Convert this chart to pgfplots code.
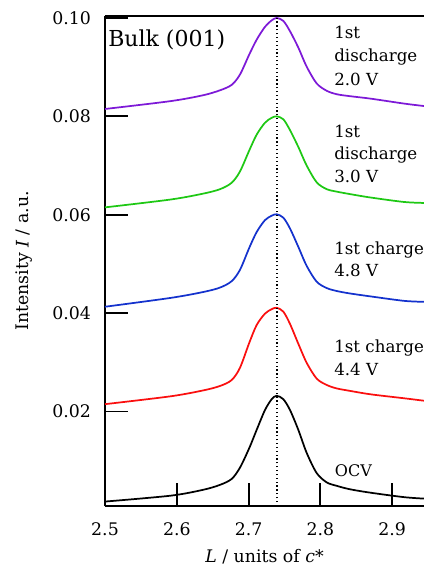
\documentclass[border=0pt]{standalone}
\usepackage{fontspec}
\setmainfont{DejaVu Serif}
\usepackage{pgfplots}
\pgfplotsset{compat=1.18}

\definecolor{cPurple}{RGB}{125,25,215}
\definecolor{cGreen}{RGB}{30,200,20}
\definecolor{cBlue}{RGB}{20,50,205}
\definecolor{cRed}{RGB}{250,15,15}

\begin{document}
\begin{tikzpicture}
\begin{axis}[
  name=ax,
  scale only axis, width=239.25pt, height=367.5pt,
  xmin=2.5, xmax=2.9443, ymin=0.0008, ymax=0.1004,
  axis x line*=box, axis y line*=left,
  axis line style={-, line width=1.6pt},
  xtick pos=bottom, ytick pos=left,
  xtick={2.5,2.6,2.7,2.8,2.9},
  ytick={0.02,0.04,0.06,0.08,0.10},
  tick align=inside, major tick length=17.5pt,
  every tick/.style={black, line width=1.4pt},
  /pgf/number format/assume math mode=true,
  xticklabel style={/pgf/number format/fixed, /pgf/number format/precision=1,
                    font=\fontsize{13}{15}\selectfont, yshift=-9pt},
  yticklabel style={/pgf/number format/fixed, /pgf/number format/fixed zerofill,
                    /pgf/number format/precision=2,
                    font=\fontsize{13}{15}\selectfont, xshift=-7pt},
  xlabel={\textit{L} / units of \textit{c}*},
  ylabel={Intensity \textit{I} / a.u.},
  xlabel shift=3pt, ylabel shift=8pt,
  label style={font=\fontsize{13}{15}\selectfont},
  clip mode=individual,
  every axis plot/.append style={line width=1.3pt, smooth, tension=0.5},
]
% OCV
\addplot[black] coordinates {
  (2.5,0.0017) (2.5915,0.0029) (2.6369,0.0041) (2.6602,0.0051) (2.6764,0.0063)
  (2.688,0.0086) (2.701,0.0126) (2.7113,0.0163) (2.7228,0.0203) (2.7321,0.0225)
  (2.7391,0.0232) (2.7484,0.0225) (2.7577,0.0203) (2.7692,0.0163) (2.7809,0.0116)
  (2.7948,0.0075) (2.8088,0.0056) (2.8227,0.0049) (2.8412,0.0042) (2.87,0.0035)
  (2.9164,0.0026) (2.9443,0.0023)
};
% 1st charge 4.4 V
\addplot[cRed] coordinates {
  (2.5,0.0215) (2.5915,0.0231) (2.6369,0.0243) (2.6602,0.0252) (2.6764,0.0264)
  (2.688,0.0289) (2.701,0.0340) (2.7113,0.0376) (2.7228,0.0399) (2.7321,0.0408)
  (2.7391,0.0411) (2.7484,0.0403) (2.7577,0.0378) (2.7692,0.0338) (2.7809,0.0299)
  (2.7948,0.0267) (2.8088,0.0254) (2.8227,0.0247) (2.8412,0.0242) (2.87,0.0235)
  (2.9164,0.0227) (2.9443,0.0222)
};
% 1st charge 4.8 V
\addplot[cBlue] coordinates {
  (2.5,0.0413) (2.5915,0.0431) (2.6369,0.0443) (2.6602,0.0452) (2.6764,0.0465)
  (2.688,0.0488) (2.701,0.0533) (2.7113,0.0565) (2.7228,0.0589) (2.7321,0.0598)
  (2.7391,0.0601) (2.7484,0.0594) (2.7577,0.0572) (2.7692,0.0535) (2.7809,0.0496)
  (2.7948,0.0464) (2.8088,0.0451) (2.8227,0.0445) (2.8412,0.0440) (2.87,0.0434)
  (2.9164,0.0425) (2.9443,0.0423)
};
% 1st discharge 3.0 V
\addplot[cGreen] coordinates {
  (2.5,0.0615) (2.5915,0.0631) (2.6369,0.0643) (2.6602,0.0652) (2.6764,0.0665)
  (2.688,0.0688) (2.701,0.0731) (2.7113,0.0763) (2.7228,0.0787) (2.7321,0.0797)
  (2.7391,0.0800) (2.7484,0.0794) (2.7577,0.0772) (2.7692,0.0738) (2.7809,0.0700)
  (2.7948,0.0666) (2.8088,0.0652) (2.8227,0.0647) (2.8412,0.0642) (2.87,0.0635)
  (2.9164,0.0626) (2.9443,0.0624)
};
% 1st discharge 2.0 V
\addplot[cPurple] coordinates {
  (2.5,0.0815) (2.5915,0.0831) (2.6369,0.0843) (2.6602,0.0853) (2.6764,0.0864)
  (2.688,0.0885) (2.701,0.0926) (2.7113,0.0956) (2.7228,0.0982) (2.7321,0.0995)
  (2.7391,0.1000) (2.7484,0.0994) (2.7577,0.0973) (2.7692,0.0940) (2.7809,0.0901)
  (2.7948,0.0867) (2.8088,0.0852) (2.8227,0.0845) (2.8412,0.0841) (2.87,0.0836)
  (2.9164,0.0826) (2.9443,0.0821)
};
% peak position
\addplot[black, line width=0.9pt, dotted, sharp plot] coordinates {(2.7396,0.0008) (2.7396,0.1004)};

\node[anchor=base west, font=\fontsize{16.5}{19}\selectfont, inner sep=0pt] at (axis cs:2.5042,0.0943) {Bulk (001)};
\begin{scope}[every node/.style={anchor=base west, inner sep=0pt, font=\fontsize{12.5}{15}\selectfont}]
\node at (axis cs:2.819,0.0958) {1st};
\node at (axis cs:2.819,0.0911) {discharge};
\node at (axis cs:2.819,0.0863) {2.0 V};
\node at (axis cs:2.819,0.0758) {1st};
\node at (axis cs:2.819,0.0712) {discharge};
\node at (axis cs:2.819,0.0665) {3.0 V};
\node at (axis cs:2.819,0.0519) {1st charge};
\node at (axis cs:2.819,0.0475) {4.8 V};
\node at (axis cs:2.819,0.0319) {1st charge};
\node at (axis cs:2.819,0.0273) {4.4 V};
\node[font=\fontsize{12}{14}\selectfont] at (axis cs:2.8199,0.00674) {OCV};
\end{scope}
\end{axis}
\pgfresetboundingbox
\useasboundingbox ([xshift=-78.75pt,yshift=-45.75pt]ax.south west) rectangle ([yshift=12pt]ax.north east);
\end{tikzpicture}
\end{document}
